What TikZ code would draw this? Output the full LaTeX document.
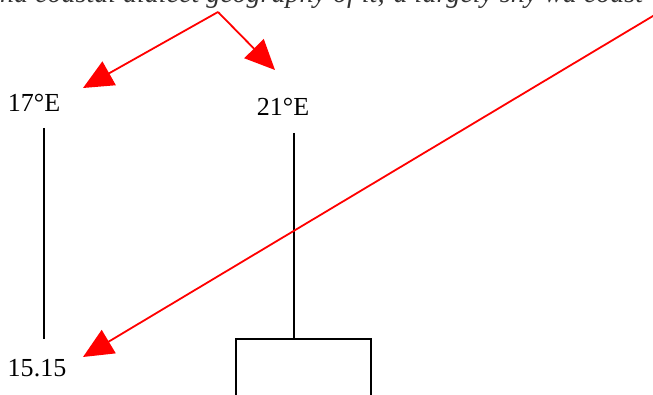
\documentclass[tikz,border=0pt]{standalone}
\usepackage{fontspec}
\setmainfont{Liberation Serif}
\usetikzlibrary{arrows.meta}
\definecolor{ArrowRed}{HTML}{FF0000}
\definecolor{Ink}{HTML}{000000}

\tikzset{
  coordlabel/.style={font=\fontsize{26}{30}\selectfont,text=Ink,inner sep=0pt},
  redarrow/.style={draw=ArrowRed,line width=1.8pt,-{Triangle[length=30pt,width=27pt]}},
  axisline/.style={draw=Ink,line width=1.6pt},
}

\begin{document}
\begin{tikzpicture}[x=1pt,y=1pt]
  \useasboundingbox (0,0) rectangle (653,394);
  \clip (0,0) rectangle (653,394);
  \fill[white] (0,0) rectangle (653,394);

  % clipped caption line at the top
  \node[anchor=base west,font=\fontsize{28}{32}\selectfont\itshape,text=Ink!80,inner sep=0pt] (caption) at (-14,391) {and coastal dialect geography of it; a largely shy wa coast};

  % labels
  \node[coordlabel] (lab17) at (34,291) {17°E};
  \node[coordlabel] (lab21) at (283,287) {21°E};
  \node[coordlabel] (lab15) at (37,26) {15.15};

  % vertical lines and box
  \coordinate (l17top) at (44,266);
  \coordinate (l17bot) at (44,55);
  \coordinate (l21top) at (294,261);
  \coordinate (l21bot) at (294,55);
  \draw[axisline] (l17top) -- (l17bot);
  \draw[axisline] (l21top) -- (l21bot);
  \draw[axisline] (236,-10) rectangle (371,55);

  % red arrows
  \coordinate (apex) at (218,382);
  \coordinate (tip17) at (83,306);
  \coordinate (tip21) at (275,324);
  \coordinate (farstart) at (663,384);
  \coordinate (tip15) at (83,37);
  \draw[redarrow] (apex) -- (tip17);
  \draw[redarrow] (apex) -- (tip21);
  \draw[redarrow] (farstart) -- (tip15);
\end{tikzpicture}
\end{document}
